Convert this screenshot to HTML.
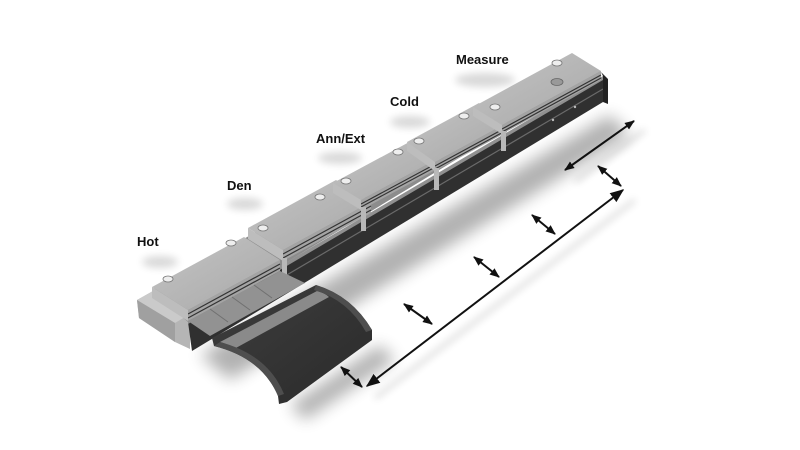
<!DOCTYPE html>
<html><head><meta charset="utf-8"><style>
html,body{margin:0;padding:0;background:#fff;}
svg{display:block}
text{font-family:"Liberation Sans",Arial,sans-serif;font-weight:bold;font-size:13px;fill:#111}
</style></head><body>
<svg width="800" height="450" viewBox="0 0 800 450" xmlns="http://www.w3.org/2000/svg">
<defs>
<filter id="b8" x="-50%" y="-50%" width="200%" height="200%"><feGaussianBlur stdDeviation="8"/></filter>
<filter id="b4" x="-50%" y="-50%" width="200%" height="200%"><feGaussianBlur stdDeviation="4"/></filter>
<linearGradient id="top" x1="0" y1="0" x2="1" y2="1"><stop offset="0" stop-color="#c4c4c4"/><stop offset="1" stop-color="#a8a8a8"/></linearGradient>
<linearGradient id="car" x1="0" y1="0" x2="1" y2="1"><stop offset="0" stop-color="#3e3e3e"/><stop offset="1" stop-color="#2a2a2a"/></linearGradient>
<marker id="ah" viewBox="0 0 10 10" refX="9" refY="5" markerWidth="5" markerHeight="5" orient="auto-start-reverse"><path d="M0,1 L10,5 L0,9 Z" fill="#111"/></marker>
<marker id="ahb" viewBox="0 0 10 10" refX="9" refY="5" markerWidth="7" markerHeight="7" orient="auto-start-reverse"><path d="M0,1 L10,5 L0,9 Z" fill="#111"/></marker>
</defs>

<g fill="#000" opacity="0.3" filter="url(#b8)">
<polygon points="200,355 610,115 630,135 230,380"/>
<polygon points="290,405 380,345 395,360 305,420"/>
</g>
<g fill="#000" opacity="0.15" filter="url(#b4)">
<ellipse cx="160" cy="262" rx="18" ry="6"/>
<ellipse cx="245" cy="204" rx="18" ry="6"/>
<ellipse cx="340" cy="158" rx="22" ry="6"/>
<ellipse cx="410" cy="122" rx="20" ry="6"/>
<ellipse cx="485" cy="80" rx="30" ry="7"/>
<line x1="375" y1="398" x2="635" y2="200" stroke="#000" stroke-width="4"/>
<line x1="575" y1="182" x2="645" y2="130" stroke="#000" stroke-width="4"/>
</g>

<polygon points="137,300 153,291 190,314 190,349 175,342 139,318" fill="#b5b5b5"/>
<polygon points="137,300 175,323 190,314 153,291" fill="#cacaca"/>
<polygon points="137,300 175,323 175,342 139,318" fill="#a0a0a0"/>

<polygon points="152,290 572,56 601,72 188,322" fill="#8c8c8c"/>
<polygon points="188,322 603,78 603,102 192,351" fill="#303030"/>
<polygon points="188,320 603,76 603,80 188,324" fill="#909090"/>
<line x1="200" y1="326" x2="603" y2="89" stroke="#6a6a6a" stroke-width="1.2"/>
<polygon points="601,72 608,79 608,104 603,102 603,76" fill="#222"/>
<circle cx="575" cy="107" r="1.2" fill="#bbb"/><circle cx="553" cy="120" r="1.2" fill="#bbb"/>

<g>
<polygon points="152,287 244,237 280,260 188,310" fill="url(#top)"/>
<polygon points="188,310 280,260 280,271 188,321" fill="#a4a4a4"/>
<line x1="188" y1="314" x2="280" y2="264" stroke="#333" stroke-width="1.2"/><line x1="188" y1="318" x2="280" y2="268" stroke="#333" stroke-width="1.2"/>
<polygon points="152,287 188,310 188,321 152,298" fill="#bdbdbd"/>
<ellipse cx="168" cy="279" rx="5" ry="3" fill="#eee" stroke="#777" stroke-width=".8"/>
<ellipse cx="231" cy="243" rx="5" ry="3" fill="#eee" stroke="#777" stroke-width=".8"/>
</g>
<g>
<polygon points="248,228 336,180 371,202 283,250" fill="url(#top)"/>
<polygon points="283,250 371,202 371,213 283,261" fill="#a4a4a4"/>
<line x1="283" y1="254" x2="371" y2="206" stroke="#333" stroke-width="1.2"/><line x1="283" y1="258" x2="371" y2="210" stroke="#333" stroke-width="1.2"/>
<polygon points="248,228 283,250 283,261 248,239" fill="#bdbdbd"/>
<rect x="282" y="258" width="5" height="24" fill="#b8b8b8"/>
<ellipse cx="263" cy="228" rx="5" ry="3" fill="#eee" stroke="#777" stroke-width=".8"/>
<ellipse cx="320" cy="197" rx="5" ry="3" fill="#eee" stroke="#777" stroke-width=".8"/>
</g>
<g>
<polygon points="333,183 413,140 441,157 361,200" fill="url(#top)"/>
<polygon points="361,200 441,157 441,167 361,210" fill="#a4a4a4"/>
<line x1="361" y1="204" x2="441" y2="161" stroke="#333" stroke-width="1.2"/><line x1="361" y1="207" x2="441" y2="164" stroke="#333" stroke-width="1.2"/>
<polygon points="333,183 361,200 361,210 333,193" fill="#bdbdbd"/>
<rect x="361" y="207" width="5" height="24" fill="#b8b8b8"/>
<ellipse cx="346" cy="181" rx="5" ry="3" fill="#eee" stroke="#777" stroke-width=".8"/>
<ellipse cx="398" cy="152" rx="5" ry="3" fill="#eee" stroke="#777" stroke-width=".8"/>
</g>
<g>
<polygon points="407,142 479,103 507,123 435,162" fill="url(#top)"/>
<polygon points="435,162 507,123 507,132 435,171" fill="#a4a4a4"/>
<line x1="435" y1="166" x2="507" y2="127" stroke="#333" stroke-width="1.2"/><line x1="435" y1="169" x2="507" y2="130" stroke="#333" stroke-width="1.2"/>
<polygon points="407,142 435,162 435,171 407,151" fill="#bdbdbd"/>
<rect x="434" y="168" width="5" height="22" fill="#b8b8b8"/>
<ellipse cx="419" cy="141" rx="5" ry="3" fill="#eee" stroke="#777" stroke-width=".8"/>
<ellipse cx="464" cy="116" rx="5" ry="3" fill="#eee" stroke="#777" stroke-width=".8"/>
</g>
<g>
<polygon points="473,107 572,53 601,71 502,125" fill="url(#top)"/>
<polygon points="502,125 601,71 601,80 502,134" fill="#a4a4a4"/>
<line x1="502" y1="129" x2="601" y2="75" stroke="#333" stroke-width="1.2"/><line x1="502" y1="132" x2="601" y2="78" stroke="#333" stroke-width="1.2"/>
<polygon points="473,107 502,125 502,134 473,116" fill="#bdbdbd"/>
<rect x="501" y="131" width="5" height="20" fill="#b8b8b8"/>
<ellipse cx="495" cy="107" rx="5" ry="3" fill="#eee" stroke="#777" stroke-width=".8"/>
<ellipse cx="557" cy="63" rx="5" ry="3" fill="#eee" stroke="#777" stroke-width=".8"/>
<ellipse cx="557" cy="82" rx="6" ry="3.5" fill="#999" stroke="#666" stroke-width=".8"/>
</g>

<polygon points="188,321 280,271 305,283 210,336" fill="#929292"/>
<g stroke="#707070" stroke-width="1"><line x1="210" y1="309" x2="228" y2="322"/><line x1="232" y1="297" x2="250" y2="310"/><line x1="254" y1="285" x2="272" y2="298"/></g>

<path d="M212,338 L316,285 Q352,296 372,330 L372,340 L287,402 L279,404 L278,396 Q262,358 214,346 Z" fill="url(#car)"/>
<path d="M220,342 L317,291 Q325,293 329,297 L234,349 Q228,344 220,342 Z" fill="#8a8a8a"/>
<path d="M316,285 Q352,296 372,330 L366,332 Q348,300 314,290 Z" fill="#4e4e4e"/>
<path d="M214,346 Q262,358 278,396 L284,394 Q268,355 220,342 Z" fill="#4e4e4e"/>

<g stroke="#111" stroke-width="2" fill="none">
<line x1="367" y1="386" x2="623" y2="190" marker-start="url(#ahb)" marker-end="url(#ahb)"/>
<line x1="565" y1="170" x2="634" y2="121" marker-start="url(#ah)" marker-end="url(#ah)"/>
<line x1="341" y1="367" x2="362" y2="387" marker-start="url(#ah)" marker-end="url(#ah)"/>
<line x1="404" y1="304" x2="432" y2="324" marker-start="url(#ah)" marker-end="url(#ah)"/>
<line x1="474" y1="257" x2="499" y2="277" marker-start="url(#ah)" marker-end="url(#ah)"/>
<line x1="532" y1="215" x2="555" y2="234" marker-start="url(#ah)" marker-end="url(#ah)"/>
<line x1="598" y1="166" x2="621" y2="186" marker-start="url(#ah)" marker-end="url(#ah)"/>
</g>

<text x="137" y="246">Hot</text>
<text x="227" y="190">Den</text>
<text x="316" y="143">Ann/Ext</text>
<text x="390" y="106">Cold</text>
<text x="456" y="64">Measure</text>
</svg>
</body></html>
